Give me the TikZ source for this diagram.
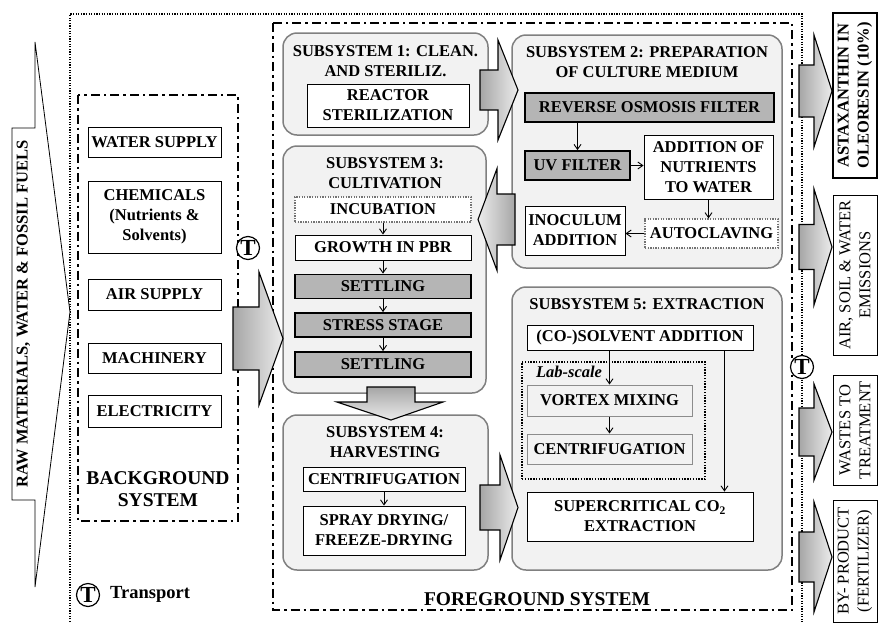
\documentclass[tikz,border=0pt]{standalone}
\usepackage{fontspec}
\setmainfont{Liberation Serif}
\usetikzlibrary{arrows.meta}
\tikzset{
  base/.style={font=\fontsize{16.5}{20}\selectfont\bfseries, align=center, inner sep=2pt},
  sub/.style={draw=black!50, fill=gray!10, rounded corners=14pt, line width=1.5pt},
  title/.style={base},
  wbox/.style={base, draw=black, fill=white, line width=0.9pt},
  gbox/.style={base, draw=black, fill=gray!58, line width=1.8pt},
  dotbox/.style={base, draw=black!55, fill=white, line width=1.3pt, dash pattern=on 1.3pt off 1.3pt},
  lbox/.style={base, draw=black!45, fill=gray!10, line width=1pt},
  outbox/.style={font=\fontsize{16.5}{20}\selectfont, align=center, inner sep=2pt, draw=black, fill=white, line width=0.9pt, rotate=90},
  tcirc/.style={circle, draw=black, line width=1.2pt, fill=white, inner sep=0pt, minimum size=23pt, font=\fontsize{23}{24}\selectfont\bfseries},
  arr/.style={-{Straight Barb[length=5pt,width=7pt]}, line width=0.9pt},
  fatarrow/.style={draw=black, line width=1.1pt, left color=gray!70, right color=gray!15},
  fatdown/.style={draw=black, line width=1.1pt, top color=gray!70, bottom color=gray!15},
  fatleft/.style={draw=black, line width=1.1pt, left color=gray!15, right color=gray!70},
  dashdot/.style={line width=2.2pt, dash pattern=on 9pt off 4pt on 2.5pt off 4pt},
  outerdot/.style={line width=1.6pt, dash pattern=on 1.3pt off 1.3pt}
}
\newcommand{\fatR}[7][fatarrow]{\path[#1] (#2,#5-#6) -- (#3,#5-#6) -- (#3,#5-#7) -- (#4,#5) -- (#3,#5+#7) -- (#3,#5+#6) -- (#2,#5+#6) -- cycle;}
\begin{document}
\begin{tikzpicture}[x=1pt,y=-1pt]
\useasboundingbox (0,0) rectangle (880,622);

% outer dotted system boundary
\draw[outerdot] (70,622) -- (70,14) -- (802,14) -- (802,622);
% foreground and background boundaries
\draw[dashdot] (273,23) rectangle (792,610);
\draw[dashdot] (78,95) rectangle (238,521);

% raw materials arrow
\draw[line width=0.8pt, fill=white] (12,128) -- (35,128) -- (35,42) -- (70,312) -- (35,587) -- (35,500) -- (12,500) -- cycle;
\node[base, rotate=90] (raw) at (23.5,314) {RAW MATERIALS, WATER \& FOSSIL FUELS};

% background system
\node[wbox, minimum width=133, minimum height=30] (water) at (154.5,142) {WATER SUPPLY};
\node[wbox, minimum width=133, minimum height=72] (chem) at (154.5,217) {CHEMICALS\\(Nutrients \&\\Solvents)};
\node[wbox, minimum width=133, minimum height=31] (air) at (154.5,294.5) {AIR SUPPLY};
\node[wbox, minimum width=133, minimum height=30] (mach) at (154.5,358) {MACHINERY};
\node[wbox, minimum width=133, minimum height=32] (elec) at (154.5,411) {ELECTRICITY};
\node[base, font=\fontsize{19.5}{22}\selectfont\bfseries] (bgt) at (158,489) {BACKGROUND\\SYSTEM};

% subsystem 1
\node[sub, minimum width=205, minimum height=102] (s1) at (385.5,84) {};
\node[title] (s1t) at (385.5,61) {SUBSYSTEM 1: CLEAN.\\AND STERILIZ.};
\node[wbox, minimum width=162, minimum height=43] (reactor) at (388,105.5) {REACTOR\\STERILIZATION};

% subsystem 2
\node[sub, minimum width=270, minimum height=233] (s2) at (647,151.5) {};
\node[title] (s2t) at (647,62) {SUBSYSTEM 2: PREPARATION\\OF CULTURE MEDIUM};
\node[gbox, minimum width=249, minimum height=29] (rof) at (649.5,107.5) {REVERSE OSMOSIS FILTER};
\node[gbox, minimum width=105, minimum height=29] (uv) at (577.5,165.5) {UV FILTER};
\node[wbox, minimum width=129, minimum height=64] (nutr) at (708.5,167) {ADDITION OF\\NUTRIENTS\\TO WATER};
\node[dotbox, minimum width=133, minimum height=29] (autoc) at (711.5,233.5) {AUTOCLAVING};
\node[wbox, minimum width=100, minimum height=49] (inoc) at (575,230.5) {INOCULUM\\ADDITION};
\draw[arr] (uv.north |- rof.south) -- (uv.north);
\draw[arr] (uv.east) -- (uv.east -| nutr.west);
\draw[arr] (nutr.south) -- (nutr.south |- autoc.north);
\draw[arr] (autoc.west) -- (autoc.west -| inoc.east);

% subsystem 3
\node[sub, minimum width=203, minimum height=247] (s3) at (384.5,269.5) {};
\node[title] (s3t) at (385,173) {SUBSYSTEM 3:\\CULTIVATION};
\node[dotbox, minimum width=176, minimum height=25] (incub) at (383,209.5) {INCUBATION};
\node[wbox, minimum width=176, minimum height=25] (growth) at (383,247.5) {GROWTH IN PBR};
\node[gbox, minimum width=176, minimum height=24] (set1) at (383,286.5) {SETTLING};
\node[gbox, minimum width=176, minimum height=24] (stress) at (383,325) {STRESS STAGE};
\node[gbox, minimum width=176, minimum height=25] (set2) at (383,364.5) {SETTLING};
\draw[arr] (incub) -- (growth);
\draw[arr] (growth) -- (set1);
\draw[arr] (set1) -- (stress);
\draw[arr] (stress) -- (set2);

% subsystem 4
\node[sub, minimum width=205, minimum height=155] (s4) at (385.5,492.5) {};
\node[title] (s4t) at (385,442.5) {SUBSYSTEM 4:\\HARVESTING};
\node[wbox, minimum width=162, minimum height=24] (cent4) at (384,479) {CENTRIFUGATION};
\node[wbox, minimum width=162, minimum height=49] (spray) at (384,530.5) {SPRAY DRYING/\\FREEZE-DRYING};
\draw[arr] (cent4) -- (spray);

% subsystem 5
\node[sub, minimum width=270, minimum height=283] (s5) at (647,428.5) {};
\node[title] (s5t) at (647,304) {SUBSYSTEM 5: EXTRACTION};
\node[wbox, minimum width=226, minimum height=25] (solv) at (640,337.5) {(CO-)SOLVENT ADDITION};
\node[draw=black, line width=1.5pt, dash pattern=on 1.4pt off 1.4pt, minimum width=183, minimum height=117] (lab) at (613.5,420.5) {};
\node[base, font=\fontsize{16.5}{18}\selectfont\bfseries\itshape] (labt) at (569,372) {Lab-scale};
\node[lbox, minimum width=165, minimum height=31] (vortex) at (609.5,400.5) {VORTEX MIXING};
\node[lbox, minimum width=165, minimum height=30] (cent5) at (609.5,449) {CENTRIFUGATION};
\node[wbox, minimum width=226, minimum height=49] (scf) at (640,516.5) {SUPERCRITICAL CO$_{\mathbf 2}$\\EXTRACTION};
\draw[arr] (vortex.north |- solv.south) -- (vortex.north);
\draw[arr] (vortex) -- (cent5);
\draw[arr] ([xshift=-29pt]solv.south east) -- ([xshift=-29pt]scf.north east);

\node[base, font=\fontsize{19.5}{22}\selectfont\bfseries] (fgt) at (537,599) {FOREGROUND SYSTEM};

% fat arrows
\fatR{233}{259}{283}{338.5}{31.5}{66.5}
\fatR{480}{498}{518}{90}{20}{50}
\fatR{480}{500}{518}{507.5}{22.5}{52.5}
\fatR[fatleft]{515}{497}{478}{219.5}{25.5}{51}
\path[fatdown] (367,387) -- (367,402) -- (337,402) -- (391,420) -- (443,402) -- (415,402) -- (415,387) -- cycle;
\fatR{799}{814}{832}{91}{26}{56}
\fatR{799}{814}{832}{247}{22.5}{58}
\fatR{799}{814}{832}{432}{24}{48}
\fatR{799}{814}{832}{557}{25}{55}

% outputs
\node[outbox, line width=1.8pt, font=\fontsize{16.5}{20}\selectfont\bfseries, minimum width=165, minimum height=44] (astax) at (855,95.5) {ASTAXANTHIN IN\\OLEORESIN (10\%)};
\node[outbox, minimum width=160, minimum height=44] (emis) at (855,275) {AIR, SOIL \& WATER\\EMISSIONS};
\node[outbox, minimum width=110, minimum height=44] (waste) at (855,430) {WASTES TO\\TREATMENT};
\node[outbox, minimum width=122, minimum height=44] (byp) at (855,561) {BY- PRODUCT\\(FERTILIZER)};

% transport
\node[tcirc] (t1) at (248,248) {T};
\node[tcirc] (t2) at (802,367) {T};
\node[tcirc] (t3) at (88,595) {T};
\node[base, anchor=west, font=\fontsize{18.5}{20}\selectfont\bfseries] (tlab) at (108,594) {Transport};
\end{tikzpicture}
\end{document}
